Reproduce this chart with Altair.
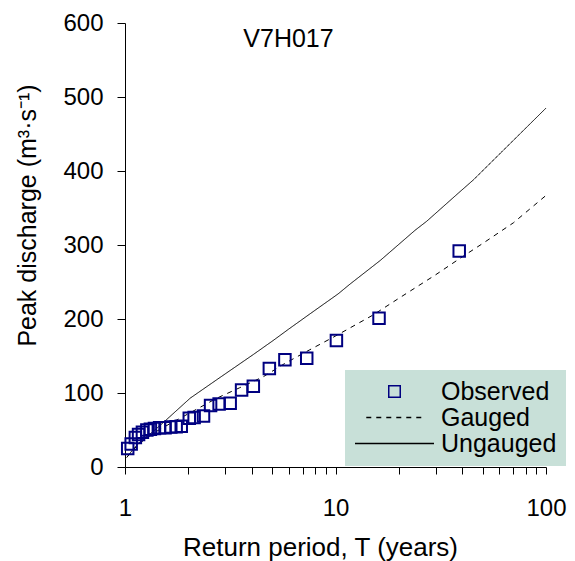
import altair as alt
import pandas as pd

# ---- data ----
series_names = ["Observed", "Gauged", "Ungauged"]

obs_T = [1.03, 1.07, 1.12, 1.16, 1.21, 1.27, 1.32, 1.38, 1.46, 1.55, 1.65, 1.75, 1.85,
         2.02, 2.13, 2.36, 2.55, 2.8, 3.16, 3.58, 4.07, 4.85, 5.75, 7.3, 10.1, 16.1, 38.7]
obs_Q = [25, 31, 40, 44, 47, 50, 51, 52, 53, 53, 54, 54.5, 55,
         66, 67, 69, 83, 85, 86, 104, 109, 133, 145, 147, 171, 201, 292]

gauged_T = [1.02, 1.1, 1.2, 1.36, 1.6, 2.0, 2.73, 3.5, 4.54, 5.75, 7.5, 10, 15, 20, 30, 40, 50, 70, 100]
gauged_Q = [13, 24, 34, 45.5, 57, 72, 93, 107, 122, 140, 158, 177, 205, 228, 260, 284, 302, 330, 367]

ungauged_T = [1.02, 1.1, 1.2, 1.36, 1.52, 2.04, 2.73, 4.07, 5.06, 5.97, 7.57, 10.3, 11.7,
              16.3, 23.9, 27.1, 38.3, 45.2, 100]
ungauged_Q = [13, 25, 36, 48, 60, 93, 118, 152, 171, 186, 207, 234, 247,
              279, 320, 332, 370, 388, 485]

x_ticks = [1, 2, 3, 4, 5, 6, 7, 8, 9, 10, 20, 30, 40, 50, 60, 70, 80, 90, 100]
y_ticks = [0, 100, 200, 300, 400, 500, 600]

obs = pd.DataFrame({"T": obs_T, "Q": obs_Q, "series": "Observed"})
lines = pd.concat([
    pd.DataFrame({"T": gauged_T, "Q": gauged_Q, "series": "Gauged"}),
    pd.DataFrame({"T": ungauged_T, "Q": ungauged_Q, "series": "Ungauged"}),
], ignore_index=True)

FONT = "Liberation Sans"

x = alt.X("T:Q",
          scale=alt.Scale(type="log", domain=[1, 100], nice=False),
          axis=alt.Axis(values=x_ticks, grid=False, tickSize=7, labelPadding=22,
                        labelExpr="(datum.value == 1 || datum.value == 10 || datum.value == 100) ? format(datum.value, 'd') : ''",
                        labelOverlap=False, labelFlush=False, titleFontSize=26,
                        titleX=195, titleY=88, titleBaseline="alphabetic", titleAlign="center"),
          title="Return period, T (years)")
y = alt.Y("Q:Q",
          scale=alt.Scale(domain=[0, 600], nice=False),
          axis=alt.Axis(values=y_ticks, grid=False, tickSize=8, labelPadding=14,
                        titleX=-98, titleY=192, titleAngle=-90, titleBaseline="middle",
                        titleAlign="center"),
          title="Peak discharge (m³·s⁻¹)")

color = alt.Color("series:N",
                  scale=alt.Scale(domain=series_names, range=["#000080", "#000000", "#000000"]),
                  legend=alt.Legend(title=None))
dash = alt.StrokeDash("series:N",
                      scale=alt.Scale(domain=series_names, range=[[1, 0], [5, 5], [1, 0]]),
                      legend=alt.Legend(title=None))
shape = alt.Shape("series:N",
                  scale=alt.Scale(domain=series_names, range=["square", "stroke", "stroke"]),
                  legend=alt.Legend(title=None))
size = alt.Size("series:N",
                scale=alt.Scale(domain=series_names, range=[132, 6241, 6241]),
                legend=alt.Legend(title=None))

line_layer = alt.Chart(lines).mark_line(strokeWidth=1).encode(
    x=x, y=y, color=color, strokeDash=dash)

point_layer = alt.Chart(obs).mark_point(filled=False, strokeWidth=2, opacity=1).encode(
    x=x, y=y, color=color, shape=shape, size=size)

chart = alt.layer(line_layer, point_layer).properties(
    width=421, height=444,
    autosize=alt.AutoSizeParams(type="none"),
    padding={"left": 125, "top": 23, "right": 29, "bottom": 94},
    title=alt.TitleParams("V7H017", font=FONT, fontSize=25, fontWeight="normal",
                          color="black", anchor="middle", frame="group", dx=-47,
                          dy=41, offset=0),
).configure_view(strokeWidth=0).configure_axis(
    labelFont=FONT, titleFont=FONT, labelFontSize=24, titleFontSize=25,
    labelColor="black", titleColor="black", titleFontWeight="normal",
    domainColor="black", tickColor="black", domainWidth=1, tickWidth=1,
).configure_legend(
    orient="none", legendX=220, legendY=347, fillColor="#c8e0d8", padding=9,
    labelFont=FONT, labelFontSize=25, labelColor="black", clipHeight=25,
    rowPadding=0, labelOffset=6, symbolStrokeWidth=1.5,
)

chart.save("out.html", embed_options={"renderer": "svg", "actions": False})
